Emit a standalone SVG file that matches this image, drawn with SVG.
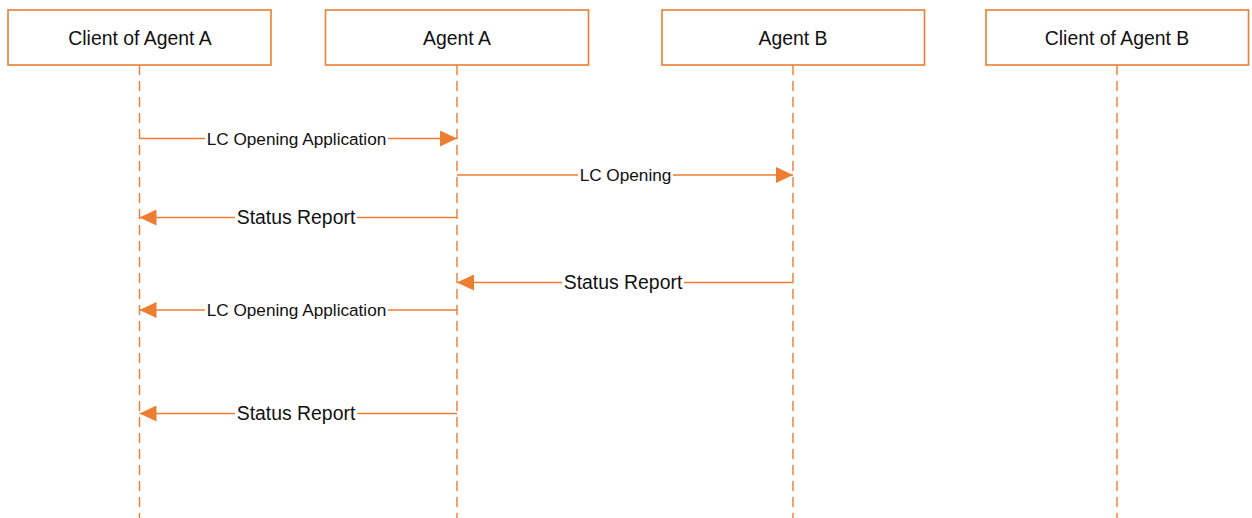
<svg xmlns="http://www.w3.org/2000/svg" width="1252" height="518" viewBox="0 0 1252 518">
<style>
.box{fill:#fff;stroke:#ED7D31;stroke-width:1.6}
.life{stroke:#ED7D31;stroke-width:1.4;stroke-dasharray:10 6;fill:none}
.msg{stroke:#ED7D31;stroke-width:1.4;fill:none;marker-end:url(#arr)}
.bg{fill:#fff}
.t{font-family:"Liberation Sans",Arial,sans-serif;fill:#111;text-anchor:middle}
.nt{font-size:19.4px}
.ml{font-size:17.2px}
.ms{font-size:19.4px}
</style>
<defs>
<marker id="arr" markerUnits="userSpaceOnUse" markerWidth="17" markerHeight="16" refX="17" refY="8" orient="auto">
<path d="M0,0 L17,8 L0,16 Z" fill="#ED7D31"/>
</marker>
</defs>
<rect width="1252" height="518" fill="#fff"/>
<g id="client-a">
<line class="life" x1="139.5" y1="65" x2="139.5" y2="518"/>
<rect class="box" x="8" y="10" width="263" height="55"/>
<text class="t nt" x="140" y="44.5">Client of Agent A</text>
</g>
<g id="agent-a">
<line class="life" x1="457" y1="65" x2="457" y2="518"/>
<rect class="box" x="325.5" y="10" width="263" height="55"/>
<text class="t nt" x="457" y="44.5">Agent A</text>
</g>
<g id="agent-b">
<line class="life" x1="793" y1="65" x2="793" y2="518"/>
<rect class="box" x="662" y="10" width="262.5" height="55"/>
<text class="t nt" x="793" y="44.5">Agent B</text>
</g>
<g id="client-b">
<line class="life" x1="1117" y1="65" x2="1117" y2="518"/>
<rect class="box" x="986" y="10" width="262.5" height="55"/>
<text class="t nt" x="1117" y="44.5">Client of Agent B</text>
</g>
<g id="connectors">
<line class="msg" x1="139.5" y1="138.5" x2="457" y2="138.5"/>
<rect class="bg" x="205" y="129" width="183" height="18"/>
<text class="t ml" x="296.5" y="144.5">LC Opening Application</text>

<line class="msg" x1="457" y1="175" x2="793" y2="175"/>
<rect class="bg" x="578" y="166" width="95" height="18"/>
<text class="t ml" x="625.5" y="181">LC Opening</text>

<line class="msg" x1="457" y1="217.5" x2="139.5" y2="217.5"/>
<rect class="bg" x="235" y="207" width="122" height="20"/>
<text class="t ms" x="296" y="224">Status Report</text>

<line class="msg" x1="793" y1="282.5" x2="457" y2="282.5"/>
<rect class="bg" x="562" y="272" width="122" height="20"/>
<text class="t ms" x="623" y="289">Status Report</text>

<line class="msg" x1="457" y1="310" x2="139.5" y2="310"/>
<rect class="bg" x="205" y="301" width="183" height="18"/>
<text class="t ml" x="296.5" y="316">LC Opening Application</text>

<line class="msg" x1="457" y1="413.5" x2="139.5" y2="413.5"/>
<rect class="bg" x="235" y="403" width="122" height="20"/>
<text class="t ms" x="296" y="420">Status Report</text>
</g>
</svg>
